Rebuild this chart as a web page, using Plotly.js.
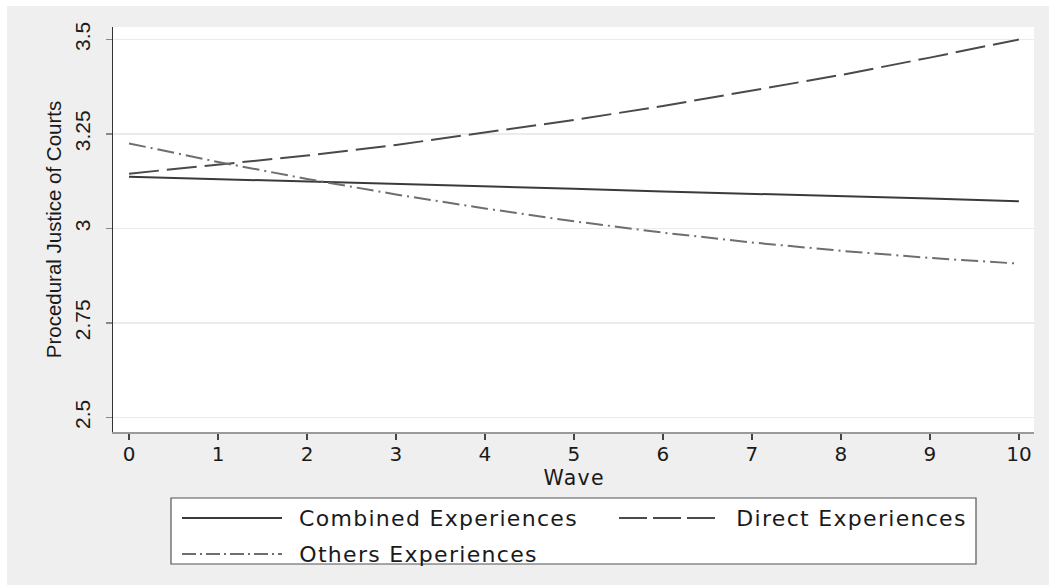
<!DOCTYPE html>
<html>
<head>
<meta charset="utf-8">
<script src="https://cdn.plot.ly/plotly-3.0.1.min.js"></script>
<style>
html,body{margin:0;padding:0;background:#fff;}
#chart{width:1049px;height:585px;}
#chart .annotation-text{letter-spacing:1.3px;}
</style>
</head>
<body>
<div id="chart"></div>
<script>
// ---- data ----
const waves = [0, 1, 2, 3, 4, 5, 6, 7, 8, 9, 10];
const combined = [3.137, 3.131, 3.124, 3.118, 3.111, 3.105, 3.098, 3.092, 3.085, 3.079, 3.072];
const direct = [3.145, 3.168, 3.193, 3.221, 3.253, 3.287, 3.324, 3.364, 3.406, 3.452, 3.500];
const others = [3.225, 3.176, 3.131, 3.090, 3.053, 3.019, 2.989, 2.963, 2.941, 2.922, 2.907];
const seriesNames = ["Combined Experiences", "Direct Experiences", "Others Experiences"];
const yTickVals = [2.5, 2.75, 3, 3.25, 3.5];
const yTickText = ["2.5", "2.75", "3", "3.25", "3.5"];
const xTickVals = [0, 1, 2, 3, 4, 5, 6, 7, 8, 9, 10];
const xTitle = "Wave";
const yTitle = "Procedural Justice of Courts";

// ---- styles ----
const HFONT = "DejaVu Sans, Liberation Sans, Arial, sans-serif";
const VFONT = "Liberation Sans, Arial, sans-serif";
const styles = [
  {color: "#3a3a3a", dash: "solid"},
  {color: "#4a4a4a", dash: "30px,8px"},
  {color: "#6e6e6e", dash: "17px,5px,2px,5px"}
];
const legendDash = ["solid", "28px,6px", "14px,4px,2px,4px"];

const ys = [combined, direct, others];
const traces = ys.map((y, i) => ({
  type: "scatter", mode: "lines", x: waves, y: y, name: seriesNames[i],
  line: {color: styles[i].color, width: 2, dash: styles[i].dash},
  showlegend: false, hoverinfo: "x+y+name"
}));

// plot area in px: left 113, right 1034, top 27, bottom 432
const PL = 113, PR = 1034, PT = 27, PB = 432, W = 1049, H = 585;
const px = v => (v - PL) / (PR - PL);
const py = v => (PB - v) / (PB - PT);

const shapes = [
  // white margins (top & left) of the gray frame
  {type: "rect", xref: "paper", yref: "paper", x0: px(0), x1: px(W), y0: py(6), y1: py(0), fillcolor: "#ffffff", line: {width: 0}, layer: "below"},
  {type: "rect", xref: "paper", yref: "paper", x0: px(0), x1: px(7), y0: py(H), y1: py(0), fillcolor: "#ffffff", line: {width: 0}, layer: "below"},
  // legend box
  {type: "rect", xref: "paper", yref: "paper", x0: px(171), x1: px(976), y0: py(564), y1: py(498), fillcolor: "#ffffff", line: {color: "#555555", width: 1.2}}
];
// tx = wanted text start + half of the extra width added by letter-spacing
const legendItems = [
  {x0: 182, x1: 282, y: 518, tx: 310},
  {x0: 619, x1: 716, y: 518, tx: 746},
  {x0: 182, x1: 282, y: 554, tx: 309}
];
const annotations = [];
legendItems.forEach((it, i) => {
  shapes.push({type: "line", xref: "paper", yref: "paper", x0: px(it.x0), x1: px(it.x1), y0: py(it.y), y1: py(it.y),
    line: {color: styles[i].color, width: 2, dash: legendDash[i]}});
  annotations.push({xref: "paper", yref: "paper", x: px(it.tx), y: py(it.y), xanchor: "left", yanchor: "middle",
    text: seriesNames[i], showarrow: false, font: {family: HFONT, size: 22, color: "#1a1a1a"}});
});
// x-axis title placed as annotation (sits tight under the tick labels)
annotations.push({xref: "paper", yref: "paper", x: 0.5, y: py(478), xanchor: "center", yanchor: "middle",
  text: xTitle, showarrow: false, font: {family: HFONT, size: 20.5, color: "#1a1a1a"}});

const layout = {
  width: W, height: H,
  paper_bgcolor: "#efefef", plot_bgcolor: "#ffffff",
  margin: {l: PL, r: W - PR, t: PT, b: H - PB, pad: 0},
  showlegend: false,
  xaxis: {
    range: [-0.18, 10.17], tickvals: xTickVals, ticktext: xTickVals.map(String),
    ticks: "outside", ticklen: 6, tickwidth: 1.5, tickcolor: "#444444",
    showline: true, linecolor: "#9a9a9a", linewidth: 1.5,
    showgrid: false, zeroline: false,
    ticklabelstandoff: -3,
    tickfont: {family: HFONT, size: 20, color: "#1a1a1a"},
    automargin: false
  },
  yaxis: {
    range: [2.4616, 3.533], tickvals: yTickVals, ticktext: yTickText, tickangle: -90,
    ticks: "outside", ticklen: 6, tickwidth: 1.5, tickcolor: "#888888",
    showline: true, linecolor: "#333333", linewidth: 1.5,
    showgrid: true, gridcolor: "#ebebeb", gridwidth: 1.5, zeroline: false,
    ticklabelstandoff: 7,
    tickfont: {family: VFONT, size: 21, color: "#1a1a1a"},
    title: {text: yTitle, font: {family: VFONT, size: 20.5, color: "#1a1a1a"}, standoff: 4},
    automargin: false
  },
  shapes: shapes,
  annotations: annotations
};

Plotly.newPlot("chart", traces, layout, {displayModeBar: false, staticPlot: true});
</script>
</body>
</html>
